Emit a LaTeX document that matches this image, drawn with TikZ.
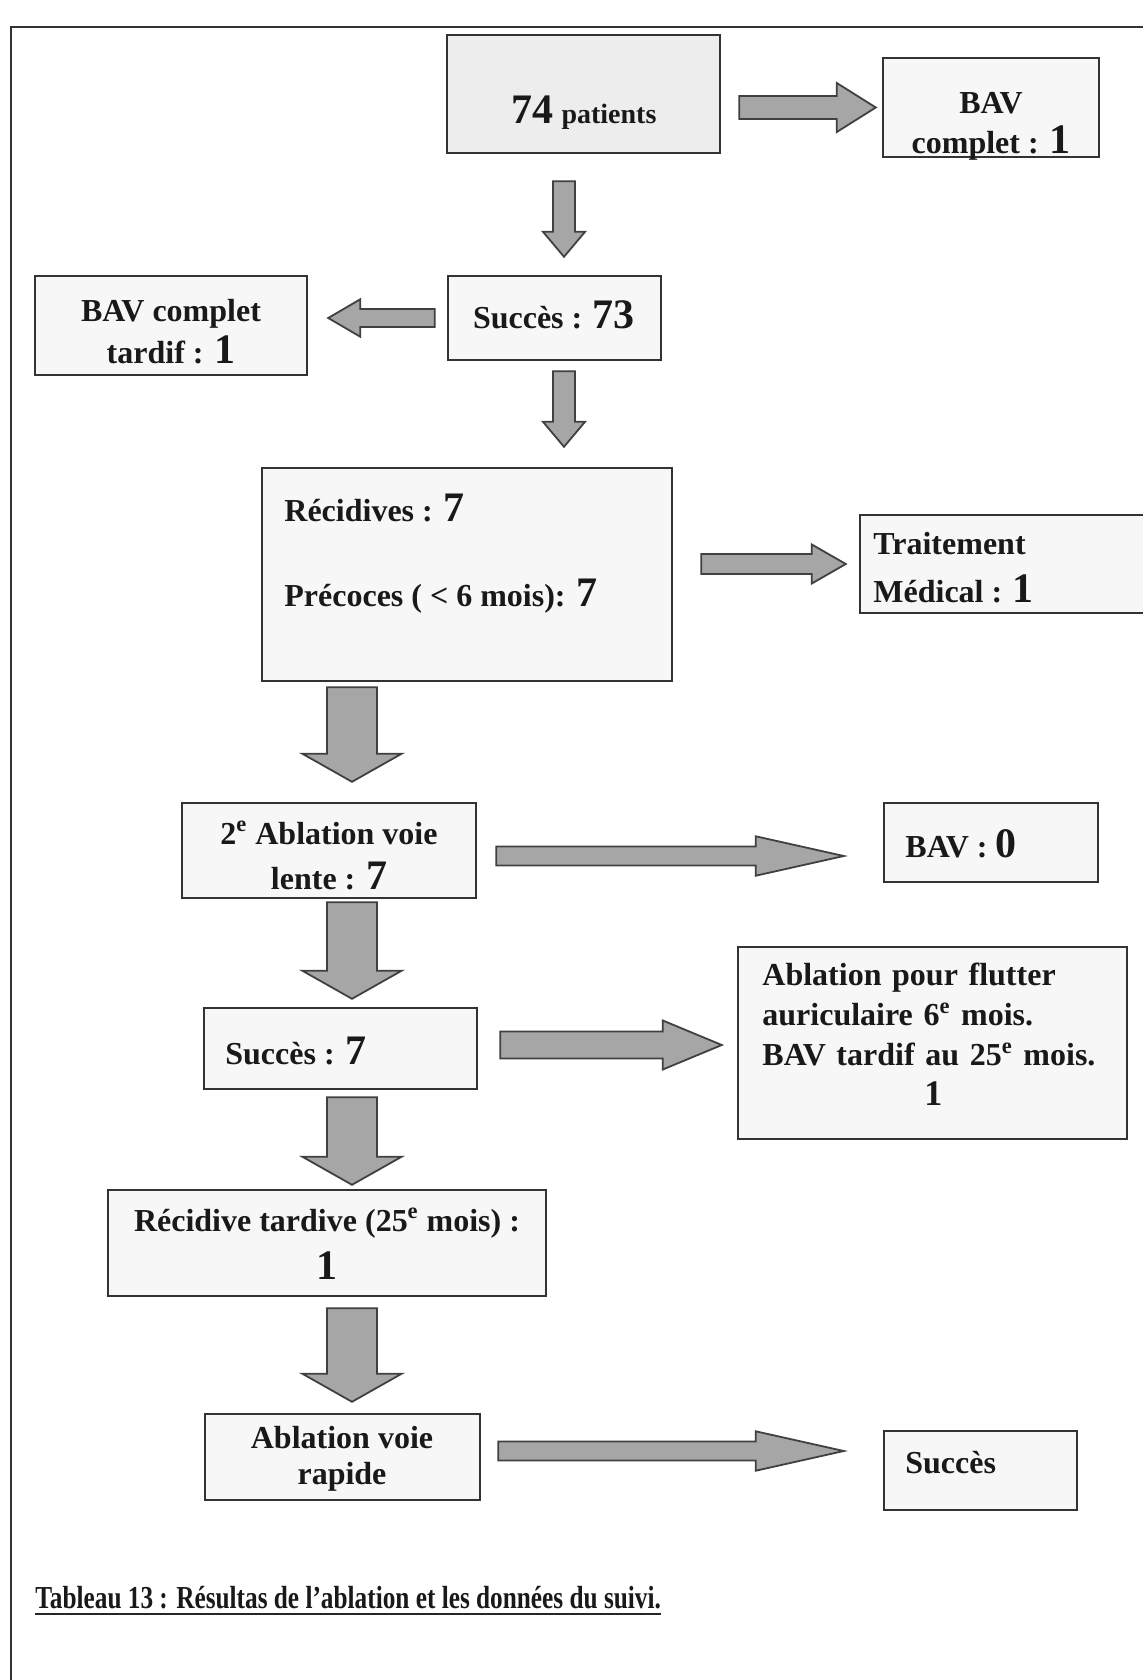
\documentclass[tikz,border=0pt]{standalone}
\usepackage{fontspec}
\setmainfont{Liberation Serif}
\newfontfamily\capfont[FakeStretch=0.79]{Liberation Serif}
\usetikzlibrary{calc}
\newcommand{\bignb}[1]{{\fontsize{21}{21}\selectfont #1}}

\begin{document}
\begin{tikzpicture}[x=0.5pt, y=-0.5pt,
    boxe/.style={draw=black!80, line width=1.2pt, fill=black!3, inner sep=0pt},
    txt/.style={inner sep=0pt, text=black!90, font=\fontsize{16}{20}\selectfont\bfseries},
    blockarr/.style n args={3}{draw=black!75, fill=black!35, line width=0.9pt,
        to path={($(\tikztostart)!#1!90:(\tikztotarget)$)
          -- ($($(\tikztotarget)!#3!(\tikztostart)$)!#1!-90:(\tikztostart)$)
          -- ($($(\tikztotarget)!#3!(\tikztostart)$)!#2!-90:(\tikztostart)$)
          -- (\tikztotarget)
          -- ($($(\tikztotarget)!#3!(\tikztostart)$)!#2!90:(\tikztostart)$)
          -- ($($(\tikztotarget)!#3!(\tikztostart)$)!#1!90:(\tikztostart)$)
          -- ($(\tikztostart)!#1!-90:(\tikztotarget)$) -- cycle}},
    thinarr/.style={blockarr={5.5pt}{10.5pt}{12.5pt}},
    bigarr/.style={blockarr={12.5pt}{24.75pt}{14pt}},
    longarr/.style={blockarr={4.75pt}{9.85pt}{44pt}}]

    \useasboundingbox (0,0) rectangle (1143,1680);
    \draw[line width=1.2pt, black!80] (11,1680) -- (11,27) -- (1143,27);

    % boxes
    \node[boxe, fill=black!7, minimum width=136.5pt, minimum height=59pt] (n74) at (583.5,94) {};
    \node[boxe, minimum width=108pt, minimum height=49.5pt] (bavA) at (991,107.5) {};
    \node[boxe, minimum width=106.5pt, minimum height=42pt] (s73) at (554.5,318) {};
    \node[boxe, minimum width=136pt, minimum height=49.5pt] (bavT) at (171,325.5) {};
    \node[boxe, minimum width=205pt, minimum height=106.5pt] (rec) at (467,574.5) {};
    \node[boxe, minimum width=145pt, minimum height=49pt] (trt) at (1005,564) {};
    \node[boxe, minimum width=147pt, minimum height=47.5pt] (abl2) at (329,850.5) {};
    \node[boxe, minimum width=107pt, minimum height=39.5pt] (bav0) at (991,842.5) {};
    \node[boxe, minimum width=136.5pt, minimum height=40.5pt] (s7) at (340.5,1048.5) {};
    \node[boxe, minimum width=194.5pt, minimum height=96pt] (flut) at (932.5,1043) {};
    \node[boxe, minimum width=219pt, minimum height=53pt] (rectard) at (327,1243) {};
    \node[boxe, minimum width=137.5pt, minimum height=43pt] (rap) at (342.5,1457) {};
    \node[boxe, minimum width=96.5pt, minimum height=39.5pt] (sucF) at (980.5,1470.5) {};

    % texts
    \node[txt, anchor=base] (n74t) at (584,124) {\bignb{74} {\fontsize{14}{14}\selectfont patients}};
    \node[txt, anchor=north, align=center] (bavAt) at (991,92) {BAV\\complet : \bignb{1}};
    \node[txt, anchor=base] (s73t) at (554,328) {Succès : \bignb{73}};
    \node[txt, anchor=north, align=center] (bavTt) at (171,299) {BAV complet\\[1pt]tardif : \bignb{1}};
    \node[txt, anchor=north west, align=left] (rect) at (284,494) {Récidives : \bignb{7}\\[22.5pt]Précoces ( < 6 mois): \bignb{7}};
    \node[txt, anchor=north west, align=left] (trtt) at (873,532) {Traitement\\[4pt]Médical : \bignb{1}};
    \node[txt, anchor=north, align=center] (abl2t) at (329,821) {2\textsuperscript{e} Ablation voie\\[2.5pt]lente : \bignb{7}};
    \node[txt, anchor=base west] (bav0t) at (905,857) {BAV : \bignb{0}};
    \node[txt, anchor=base west] (s7t) at (225,1064) {Succès : \bignb{7}};
    \node[txt, anchor=north west, text width=171pt, align=left] (flutt) at (762,963) {Ablation pour flutter\\auriculaire 6\textsuperscript{e} mois.\\BAV tardif au 25\textsuperscript{e} mois.\par{\centering\fontsize{18}{20}\selectfont 1\par}};
    \node[txt, anchor=north, align=center] (rectardt) at (327,1208) {Récidive tardive (25\textsuperscript{e} mois) :\\[4pt]\bignb{1}};
    \node[txt, align=center] (rapt) at (342,1459) {Ablation voie\\[-2pt]rapide};
    \node[txt, anchor=base west] (sucFt) at (905,1473) {Succès};
    \node[txt, anchor=base west, font=\capfont\fontsize{16}{18}\selectfont\bfseries] (capt) at (35,1608) {Tableau 13 : Résultas de l’ablation et les données du suivi.};
    \draw[line width=1.4pt, black!85] ([yshift=-3pt]capt.base west) -- ([yshift=-3pt]capt.base east);

    % arrows
    \coordinate (colB) at (352,0);
    \draw[blockarr={5.75pt}{12.25pt}{19.5pt}] ($(n74.east |- bavA.west)+(18,0)$) to ($(bavA.west)+(-6,0)$);
    \draw[thinarr] ($(n74.south)+(-19.5,27)$) to ($(s73.north)+(9.5,-18)$);
    \draw[blockarr={4.5pt}{9.35pt}{16pt}] ($(s73.west)+(-12,0)$) to ($(bavT.east |- s73.west)+(20,0)$);
    \draw[thinarr] ($(s73.south)+(9.5,10)$) to ($(rec.north)+(97,-20)$);
    \draw[blockarr={5pt}{9.75pt}{17pt}] ($(rec.east |- trt.west)+(28,0)$) to ($(trt.west)+(-13,0)$);
    \draw[bigarr] ($(colB |- rec.south)+(0,5)$) to ($(colB |- abl2.north)+(0,-20)$);
    \draw[longarr] ($(abl2.east)+(19,5.5)$) to ($(bav0.west)+(-39,13.5)$);
    \draw[bigarr] ($(colB |- abl2.south)+(0,3)$) to ($(colB |- s7.north)+(0,-8)$);
    \draw[blockarr={6.75pt}{12.25pt}{29.5pt}] ($(s7.east)+(22,-3.5)$) to ($(flut.west)+(-15,2)$);
    \draw[bigarr] ($(colB |- s7.south)+(0,7)$) to ($(colB |- rectard.north)+(0,-4)$);
    \draw[bigarr] ($(colB |- rectard.south)+(0,11)$) to ($(colB |- rap.north)+(0,-11)$);
    \draw[longarr] ($(rap.east)+(17,-6)$) to ($(sucF.west)+(-39,-19.5)$);
\end{tikzpicture}
\end{document}
